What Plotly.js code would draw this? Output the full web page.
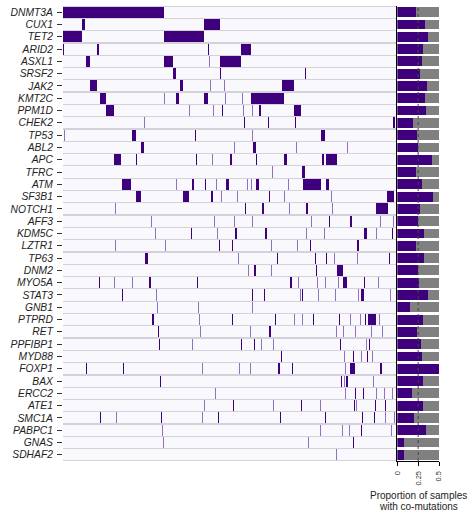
<!DOCTYPE html>
<html>
<head>
<meta charset="utf-8">
<script src="https://cdn.plot.ly/plotly-3.0.1.min.js"></script>
<style>
  html, body { margin: 0; padding: 0; background: #ffffff; }
  #chart { width: 470px; height: 513px; }
</style>
</head>
<body>
<div id="chart"></div>
<script>
// Genes, top to bottom
const genes = ['DNMT3A','CUX1','TET2','ARID2','ASXL1','SRSF2','JAK2','KMT2C','PPM1D','CHEK2',
  'TP53','ABL2','APC','TFRC','ATM','SF3B1','NOTCH1','AFF3','KDM5C','LZTR1',
  'TP63','DNM2','MYO5A','STAT3','GNB1','PTPRD','RET','PPFIBP1','MYD88','FOXP1',
  'BAX','ERCC2','ATE1','SMC1A','PABPC1','GNAS','SDHAF2'];

// Number of samples (columns of the mutation matrix)
const nSamples = 333;

// Mutated samples per gene: [first sample index, number of consecutive samples]
const mutatedRuns = [
  [[0,101]],
  [[19,3],[141,16]],
  [[0,19],[101,40]],
  [[0,1],[34,2],[145,1],[178,10]],
  [[23,4],[101,9],[157,21]],
  [[110,3],[157,1],[242,1]],
  [[27,7],[117,3],[219,12]],
  [[37,6],[113,3],[141,4],[188,33]],
  [[43,8],[159,1],[196,2],[231,7]],
  [[181,1],[205,1],[232,1],[330,2]],
  [[69,4],[132,1],[258,4]],
  [[78,3],[190,3]],
  [[51,7],[73,1],[133,1],[167,2],[193,1],[221,3],[259,2],[263,11]],
  [[239,3]],
  [[59,9],[129,2],[142,1],[163,3],[193,3],[240,18],[263,3]],
  [[73,5],[120,6],[148,2],[206,1],[324,7]],
  [[182,1],[199,2],[243,2],[313,12]],
  [[266,1],[287,2]],
  [[128,1],[172,2],[202,2],[301,3],[329,1]],
  [[156,1],[169,1],[247,1],[294,2]],
  [[82,3],[214,1],[252,1],[263,1],[326,1]],
  [[191,2],[253,1],[274,6]],
  [[36,1],[86,2],[134,1],[227,2],[280,4],[301,1]],
  [[59,1],[189,1],[201,1],[239,1],[298,3]],
  [],
  [[89,2],[169,1],[212,1],[250,1],[276,1],[302,1],[305,8]],
  [[95,1],[206,2]],
  [[96,1],[178,1],[191,1],[277,1],[306,1]],
  [[218,1],[290,1],[304,1]],
  [[23,1],[60,1],[215,2],[229,1],[287,5],[317,2]],
  [[97,1],[278,1],[283,2]],
  [[292,1],[300,1]],
  [[170,1],[238,1],[291,1],[312,1],[322,1]],
  [[37,1],[98,1],[155,1],[217,1],[262,1],[299,1],[311,1]],
  [[298,1]],
  [[290,1]],
  []
];

// Single samples drawn in the lighter shade, per gene
const lightSamples = [
  [], [], [], [], [146], [], [147,161], [101,162,179], [126,150,180,189], [81],
  [1,189], [171,233,284], [149], [209], [113,153,184,188,225], [158,174,221,268],
  [52,226,269], [88,151,171,189,248,317,330], [92,154,243,261,313], [52,102,208,234],
  [175,271,294], [185,208], [51,69,235,254,262,275,315], [93,237,255,272,295,327],
  [94,135,189], [136,231,239,287,297,316], [137,187,273,280,292,308,319],
  [129,198,210,303], [281,298,309], [139,176,187,282], [281,310],
  [152,282,313,321,329], [141,210,257,293], [53,139,322,331],
  [99,257,279,286,328], [100,245], [273]
];

// Proportion of samples with co-mutations
const coMutProp = [0.22,0.33,0.365,0.31,0.295,0.27,0.355,0.335,0.34,0.19,
  0.235,0.25,0.415,0.225,0.295,0.425,0.27,0.25,0.32,0.225,
  0.325,0.25,0.26,0.37,0.15,0.31,0.235,0.285,0.30,0.50,
  0.305,0.175,0.31,0.195,0.35,0.075,0.085];

const propTicks = [0, 0.25, 0.5];
const propTickText = ['0', '0.25', '0.5'];
const propTitleLines = ['Proportion of samples', 'with co-mutations'];

const DARK = '#3f007d';
const LIGHT = '#9170c4';
const ROW_BG = '#f9f9fd';
const ROW_SEP = '#d2d2d8';
const REST = '#808080';
const FONT = 'Liberation Sans, Arial, Helvetica, sans-serif';

const propMax = propTicks[propTicks.length - 1];
const propDomain = [0.8421, 0.9471];

// Row backgrounds for the matrix
const sepTrace = {
  type: 'bar', orientation: 'h', xaxis: 'x', yaxis: 'y',
  y: genes, x: genes.map(() => nSamples), base: genes.map(() => 0),
  width: 1, marker: {color: ROW_SEP, line: {width: 0}}, hoverinfo: 'skip'
};
const bgTrace = {
  type: 'bar', orientation: 'h', xaxis: 'x', yaxis: 'y',
  y: genes, x: genes.map(() => nSamples), base: genes.map(() => 0),
  width: 0.9, marker: {color: ROW_BG, line: {width: 0}}, hoverinfo: 'skip'
};

// Mutation marks
const dy = [], dx = [], db = [];
mutatedRuns.forEach((runs, i) => runs.forEach(r => { dy.push(genes[i]); db.push(r[0]); dx.push(r[1]); }));
const ly = [], lx = [], lb = [];
lightSamples.forEach((s, i) => s.forEach(p => { ly.push(genes[i]); lb.push(p); lx.push(1); }));

const lightTrace = {
  type: 'bar', orientation: 'h', xaxis: 'x', yaxis: 'y',
  y: ly, x: lx, base: lb, width: 0.9,
  marker: {color: LIGHT, line: {width: 0}}, hoverinfo: 'skip'
};
const darkTrace = {
  type: 'bar', orientation: 'h', xaxis: 'x', yaxis: 'y',
  y: dy, x: dx, base: db, width: 0.9,
  marker: {color: DARK, line: {width: 0}}, hoverinfo: 'skip'
};

// Proportion panel: grey remainder up to the axis maximum, purple share
const restTrace = {
  type: 'bar', orientation: 'h', xaxis: 'x2', yaxis: 'y2',
  y: genes, x: coMutProp.map(v => propMax - v), base: coMutProp,
  width: 0.8, marker: {color: REST, line: {width: 0}}, hoverinfo: 'skip'
};
const propTrace = {
  type: 'bar', orientation: 'h', xaxis: 'x2', yaxis: 'y2',
  y: genes, x: coMutProp, base: genes.map(() => 0),
  width: 0.8, marker: {color: DARK, line: {width: 0}}, hoverinfo: 'skip'
};

const yRange = [genes.length - 0.5, -0.5];

const layout = {
  width: 470, height: 513,
  margin: {l: 63, r: 10, t: 5.5, b: 51.5},
  paper_bgcolor: '#ffffff', plot_bgcolor: 'rgba(0,0,0,0)',
  barmode: 'overlay', bargap: 0, showlegend: false,
  font: {family: FONT, color: '#222222'},
  xaxis: {
    domain: [0, 0.8396], range: [0, nSamples], showticklabels: false,
    showgrid: false, zeroline: false, showline: false, ticks: '', fixedrange: true
  },
  yaxis: {
    type: 'category', categoryorder: 'array', categoryarray: genes,
    range: yRange, autorange: false, showgrid: false, zeroline: false, showline: false,
    ticks: 'outside', ticklen: 5, tickwidth: 1, tickcolor: '#333333',
    ticklabelstandoff: 2,
    tickfont: {family: FONT, size: 10.3, style: 'italic', color: '#222222'},
    fixedrange: true
  },
  xaxis2: {
    domain: propDomain, anchor: 'y2', range: [0, propMax],
    tickmode: 'array', tickvals: propTicks, ticktext: propTickText, tickangle: -90,
    ticks: 'outside', ticklen: 4, tickwidth: 1, tickcolor: '#000000',
    ticklabelstandoff: 2,
    showline: true, linecolor: '#000000', linewidth: 1,
    showgrid: false, zeroline: false,
    tickfont: {family: FONT, size: 7.5, color: '#333333'}, fixedrange: true
  },
  yaxis2: {
    anchor: 'x2', type: 'category', categoryorder: 'array', categoryarray: genes,
    range: yRange, autorange: false, showticklabels: false, ticks: '',
    showline: true, linecolor: '#000000', linewidth: 1.5,
    showgrid: false, zeroline: false, fixedrange: true
  },
  shapes: [{
    type: 'line', xref: 'x2', yref: 'paper',
    x0: propTicks[1], x1: propTicks[1], y0: 0, y1: 1,
    line: {color: '#444444', width: 1, dash: 'dot'}, layer: 'above'
  }],
  annotations: propTitleLines.map((t, k) => ({
    text: t,
    xref: 'paper', yref: 'paper', x: (propDomain[0] + propDomain[1]) / 2, y: 0,
    xanchor: 'center', yanchor: 'middle', yshift: -34 - 11 * k, showarrow: false,
    font: {family: FONT, size: 10, color: '#222222'}
  }))
};

Plotly.newPlot('chart',
  [sepTrace, bgTrace, lightTrace, darkTrace, restTrace, propTrace],
  layout, {displayModeBar: false, staticPlot: true});
</script>
</body>
</html>
